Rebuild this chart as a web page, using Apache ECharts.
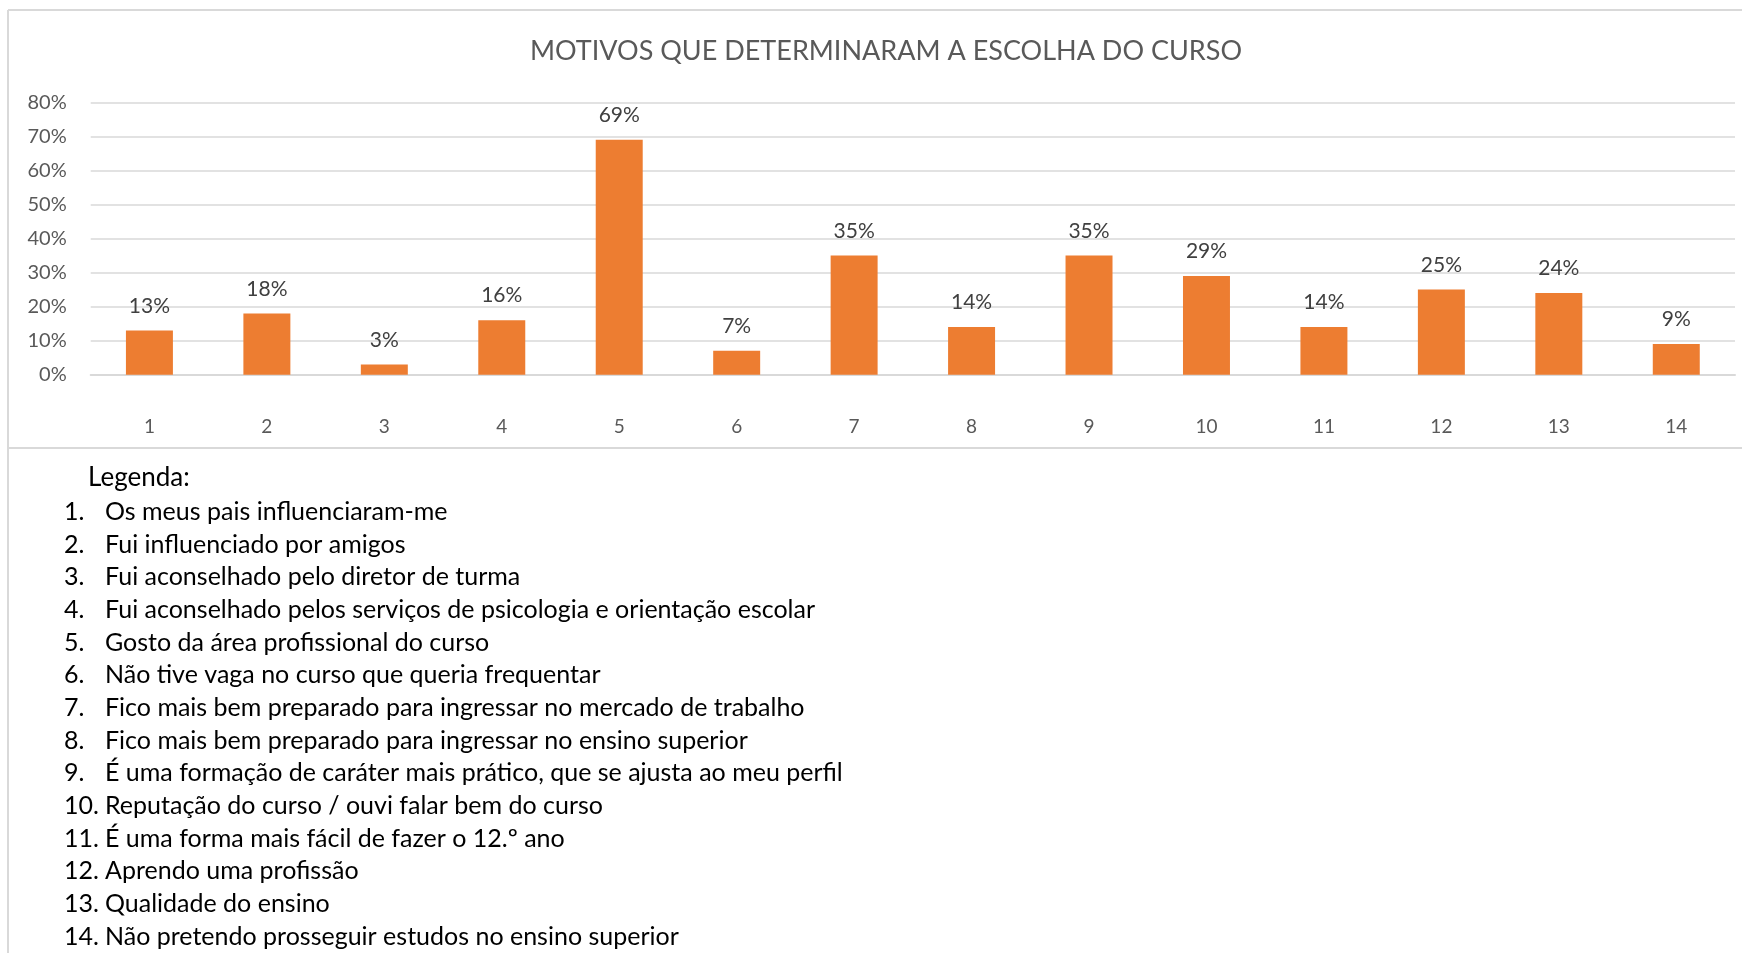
<!DOCTYPE html>
<html>
<head>
<meta charset="utf-8">
<script src="https://cdn.jsdelivr.net/npm/echarts@6/dist/echarts.min.js"></script>
<style>
html,body{margin:0;padding:0;background:#fff;}
#chart{width:1742px;height:953px;}
</style>
</head>
<body>
<div id="chart"></div>
<script>
const titleText = 'MOTIVOS QUE DETERMINARAM A ESCOLHA DO CURSO';
const categories = ['1','2','3','4','5','6','7','8','9','10','11','12','13','14'];
const values = [13, 18, 3, 16, 69, 7, 35, 14, 35, 29, 14, 25, 24, 9];
const yTicks = [0, 10, 20, 30, 40, 50, 60, 70, 80];
const legendTitle = 'Legenda:';
const legendItems = [
  'Os meus pais influenciaram-me',
  'Fui influenciado por amigos',
  'Fui aconselhado pelo diretor de turma',
  'Fui aconselhado pelos serviços de psicologia e orientação escolar',
  'Gosto da área profissional do curso',
  'Não tive vaga no curso que queria frequentar',
  'Fico mais bem preparado para ingressar no mercado de trabalho',
  'Fico mais bem preparado para ingressar no ensino superior',
  'É uma formação de caráter mais prático, que se ajusta ao meu perfil',
  'Reputação do curso / ouvi falar bem do curso',
  'É uma forma mais fácil de fazer o 12.º ano',
  'Aprendo uma profissão',
  'Qualidade do ensino',
  'Não pretendo prosseguir estudos no ensino superior'
];

const FONT = 'Lato, "Open Sans", sans-serif';
const chart = echarts.init(document.getElementById('chart'));

const graphics = [];
const frameStyle = {stroke: '#d9d9d9', lineWidth: 2};
graphics.push({type: 'line', shape: {x1: 8, y1: 10, x2: 1742, y2: 10}, style: frameStyle, silent: true});
graphics.push({type: 'line', shape: {x1: 8, y1: 10, x2: 8, y2: 953}, style: frameStyle, silent: true});
graphics.push({type: 'line', shape: {x1: 8, y1: 448, x2: 1742, y2: 448}, style: frameStyle, silent: true});
graphics.push({type: 'text', x: 886, y: 51, style: {text: titleText, font: '27px ' + FONT, fill: '#595959', textAlign: 'center', textVerticalAlign: 'middle'}});
graphics.push({type: 'text', x: 88, y: 478, style: {text: legendTitle, font: '26px ' + FONT, fill: '#000', textAlign: 'left', textVerticalAlign: 'middle'}});
legendItems.forEach((t, i) => {
  const y = 512 + i * 32.65;
  graphics.push({type: 'text', x: 64, y: y, style: {text: (i + 1) + '.', font: '25px ' + FONT, fill: '#000', textAlign: 'left', textVerticalAlign: 'middle'}});
  graphics.push({type: 'text', x: 105, y: y, style: {text: t, font: '25px ' + FONT, fill: '#000', textAlign: 'left', textVerticalAlign: 'middle'}});
});

chart.setOption({
  animation: false,
  backgroundColor: '#fff',
  grid: {left: 90.7, right: 7, top: 102.3, bottom: 953 - 374.7, containLabel: false},
  xAxis: {
    type: 'category',
    data: categories,
    axisLine: {show: true, lineStyle: {color: '#d9d9d9', width: 2}},
    axisTick: {show: false},
    axisLabel: {color: '#595959', fontFamily: FONT, fontSize: 19, margin: 43}
  },
  yAxis: {
    type: 'value',
    min: 0, max: 80, interval: 10,
    axisLine: {show: false},
    axisTick: {show: false},
    splitLine: {lineStyle: {color: '#d9d9d9', width: 1.5}},
    axisLabel: {color: '#595959', fontFamily: FONT, fontSize: 20, margin: 24,
      formatter: v => yTicks.includes(v) ? v + '%' : ''}
  },
  series: [{
    type: 'bar',
    data: values,
    barWidth: '40%',
    itemStyle: {color: '#ED7D31'},
    label: {show: true, position: 'top', distance: 14, color: '#404040', fontFamily: FONT, fontSize: 21, formatter: p => p.value + '%'}
  }],
  graphic: graphics
});
</script>
</body>
</html>
